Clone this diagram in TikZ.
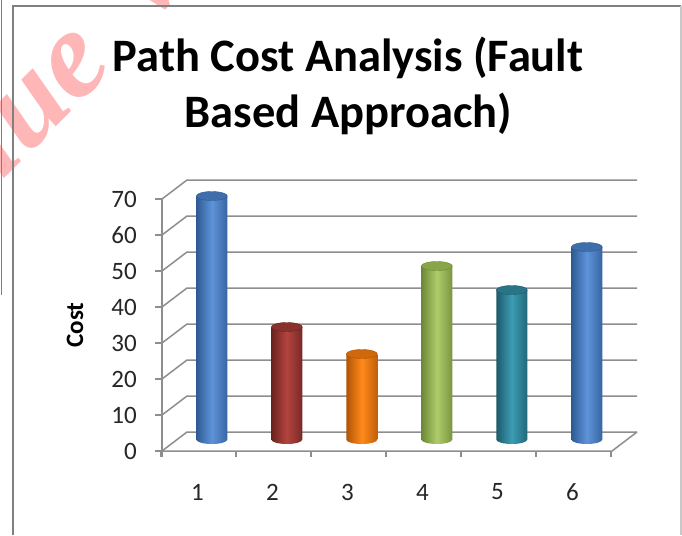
\documentclass[tikz,border=0pt]{standalone}
\usepackage{fontspec}
\setmainfont{Carlito}
\newfontfamily\wmfont{Liberation Serif}
\definecolor{gridgray}{HTML}{8E8E8E}
\definecolor{framegray}{HTML}{808080}
\definecolor{frameright}{HTML}{C8C8C8}
\definecolor{wmred}{HTML}{FFB6B6}
\definecolor{lblack}{HTML}{262626}
% bar colours
\definecolor{blueL}{HTML}{5E93DA}\definecolor{blueD}{HTML}{2E5A93}\definecolor{blueT}{HTML}{3F6EAB}
\definecolor{redL}{HTML}{B3443F}\definecolor{redD}{HTML}{6A2220}\definecolor{redT}{HTML}{8A302D}
\definecolor{orL}{HTML}{FF8A1A}\definecolor{orD}{HTML}{B25406}\definecolor{orT}{HTML}{D0680C}
\definecolor{grL}{HTML}{AECD6A}\definecolor{grD}{HTML}{6C8736}\definecolor{grT}{HTML}{88A548}
\definecolor{teL}{HTML}{3C9DB4}\definecolor{teD}{HTML}{1D5A6A}\definecolor{teT}{HTML}{2A7487}
\begin{document}
\begin{tikzpicture}[x=1pt,y=-1pt,
  gridline/.style={draw=gridgray,line width=1.5pt},
  frameline/.style={draw=framegray,line width=1.6pt},
  ticklbl/.style={font=\fontsize{25}{28}\selectfont,text=lblack,inner sep=0pt},
  catlbl/.style={font=\fontsize{25}{28}\selectfont,text=lblack,inner sep=0pt},
  titlelbl/.style={font=\fontsize{46.5}{55}\selectfont\bfseries,text=black,inner sep=0pt,anchor=base},
  wmtext/.style={font=\wmfont\bfseries\itshape\fontsize{125}{130}\selectfont,text=wmred,inner sep=0pt,rotate=45}
]
\useasboundingbox (0,0) rectangle (682,535);
\fill[white] (0,0) rectangle (682,535);

% watermark
\begin{scope}
\clip (0,0) rectangle (682,535);
\node[wmtext,anchor=base east] (wm1) at (116,67) {lue};
\node[wmtext,anchor=base west] (wm2) at (141,32) {V};
\end{scope}

% frames
\draw[draw=framegray,line width=1.2pt] (1.5,0) -- (1.5,295);
\draw[frameline] (13,535) -- (13,6) -- (681,6);
\draw[draw=frameright,line width=1.2pt] (681,6) -- (681,535);

% title
\node[titlelbl] (t1) at (348,71) {Path Cost Analysis (Fault};
\node[titlelbl] (t2) at (348.5,127) {Based Approach)};

% side wall + back wall gridlines
\foreach \k in {0,...,7}{
  \pgfmathsetmacro{\yf}{451-36*\k}
  \draw[gridline] (162,\yf) -- (187,\yf-19) -- (637,\yf-19);
  \draw[gridline] (155,\yf) -- (162,\yf);
}
% floor
\draw[gridline] (637,432) -- (612,451) -- (162,451);
% front vertical axis
\draw[gridline] (162,199) -- (162,457);
% category ticks
\foreach \i in {0,...,6}{
  \draw[gridline] (161+75*\i,451) -- (161+75*\i,457);
}

% value labels
\foreach \k in {0,...,7}{
  \pgfmathtruncatemacro{\v}{10*\k}
  \node[ticklbl,anchor=east] (yl\k) at (137,451-36*\k) {\v};
}

% axis title
\node[font=\fontsize{25}{28}\selectfont\bfseries,text=black,rotate=90,inner sep=0pt] (ytitle) at (75,325) {Cost};

% bars (cylinders)
\foreach \i/\cx/\ty/\cl/\cd/\ct in {
  1/211.8/196/blueL/blueD/blueT,
  2/286.8/327/redL/redD/redT,
  3/361.8/354/orL/orD/orT,
  4/436.8/266/grL/grD/grT,
  5/511.8/290/teL/teD/teT,
  6/586.8/247/blueL/blueD/blueT}{
  \path[left color=\cd, right color=\cd!80!\cl, middle color=\cl]
    (\cx-15.5,\ty) -- (\cx-15.5,439.5)
    arc[start angle=180,end angle=360,x radius=15.5pt,y radius=4.5pt]
    -- (\cx+15.5,\ty) -- cycle;
  \fill[\ct] (\cx,\ty) ellipse[x radius=15.5pt,y radius=4.5pt];
  \draw[\cd,line width=0.4pt] (\cx,\ty) ellipse[x radius=15.5pt,y radius=4.5pt];
  \node[inner sep=0pt,minimum size=0pt] (bar\i) at (\cx,\ty) {};
}

% category labels
\foreach \i in {1,...,6}{
  \node[catlbl] (xl\i) at (197.5+75*\i-75,492) {\i};
}
\end{tikzpicture}
\end{document}
